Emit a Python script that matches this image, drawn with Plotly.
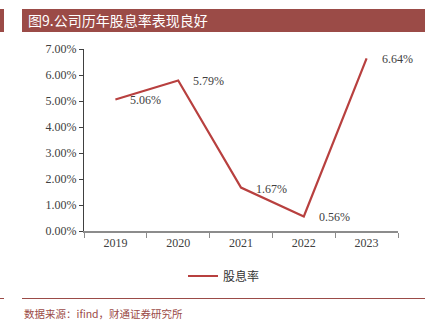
import plotly.graph_objects as go

years = ["2019", "2020", "2021", "2022", "2023"]
dividend_yield = [5.06, 5.79, 1.67, 0.56, 6.64]
label_texts = ["5.06%", "5.79%", "1.67%", "0.56%", "6.64%"]
y_ticks = [0, 1, 2, 3, 4, 5, 6, 7]
y_tick_labels = ["0.00%", "1.00%", "2.00%", "3.00%", "4.00%", "5.00%", "6.00%", "7.00%"]

L, R, T, B = 84, 39, 49, 96
W, H = 437, 327
pw, ph = W - L - R, H - T - B

def px(x):
    return (x - L) / pw

def py(y):
    return (H - B - y) / ph

line_color = "#b8403f"
bar_color = "#9b4b47"
serif = "Liberation Serif, Times New Roman, serif"
cjk = "Noto Sans CJK SC"

fig = go.Figure()
fig.add_trace(go.Scatter(
    x=years, y=dividend_yield, mode="lines", name="股息率",
    line=dict(color=line_color, width=2.2),
))

annotations = []
for i, (y, t) in enumerate(zip(dividend_yield, label_texts)):
    annotations.append(dict(
        x=i, y=y, xref="x", yref="y", text=t, showarrow=False,
        xanchor="left", yanchor="middle", xshift=13, yshift=-1,
        font=dict(family=serif, size=12, color="#404040"),
    ))

annotations.append(dict(
    x=px(26), y=py(20.5), xref="paper", yref="paper", text="图9.公司历年股息率表现良好",
    showarrow=False, xanchor="left", yanchor="middle",
    font=dict(family=cjk, size=14, color="white"),
))
annotations.append(dict(
    x=px(22), y=py(313), xref="paper", yref="paper", text="数据来源：ifind，财通证券研究所",
    showarrow=False, xanchor="left", yanchor="middle",
    font=dict(family=cjk, size=10.5, color=bar_color),
))

shapes = [
    dict(type="rect", xref="paper", yref="paper", x0=px(22), x1=px(425), y0=py(32), y1=py(9),
         fillcolor=bar_color, line=dict(width=0), layer="below"),
    dict(type="rect", xref="paper", yref="paper", x0=px(0), x1=px(4), y0=py(32), y1=py(9),
         fillcolor=bar_color, line=dict(width=0), layer="below"),
    dict(type="line", xref="paper", yref="paper", x0=px(22), x1=px(425), y0=py(298.5), y1=py(298.5),
         line=dict(color=bar_color, width=1)),
    dict(type="line", xref="paper", yref="paper", x0=px(0), x1=px(4), y0=py(298.5), y1=py(298.5),
         line=dict(color=bar_color, width=1)),
]

fig.update_layout(
    width=W, height=H,
    margin=dict(l=L, r=R, t=T, b=B),
    paper_bgcolor="white", plot_bgcolor="white",
    showlegend=True,
    legend=dict(orientation="h", x=px(224), xanchor="center", y=py(276), yanchor="middle",
                font=dict(family=cjk, size=12, color="#333333")),
    annotations=annotations,
    shapes=shapes,
    xaxis=dict(
        type="category", showgrid=False, showline=True, linecolor="#8c8c8c", linewidth=1.5,
        ticks="outside", tickson="boundaries", ticklen=5, tickcolor="#8c8c8c",
        tickfont=dict(family=serif, size=12, color="#404040"),
        range=[-0.5, 4.5],
    ),
    yaxis=dict(
        range=[0, 7], tickvals=y_ticks, ticktext=y_tick_labels, showgrid=False,
        showline=True, linecolor="#404040", linewidth=1, ticks="outside", ticklen=4,
        tickcolor="#404040", tickfont=dict(family=serif, size=12, color="#404040"),
        zeroline=False,
    ),
)

fig.write_html("out.html")
